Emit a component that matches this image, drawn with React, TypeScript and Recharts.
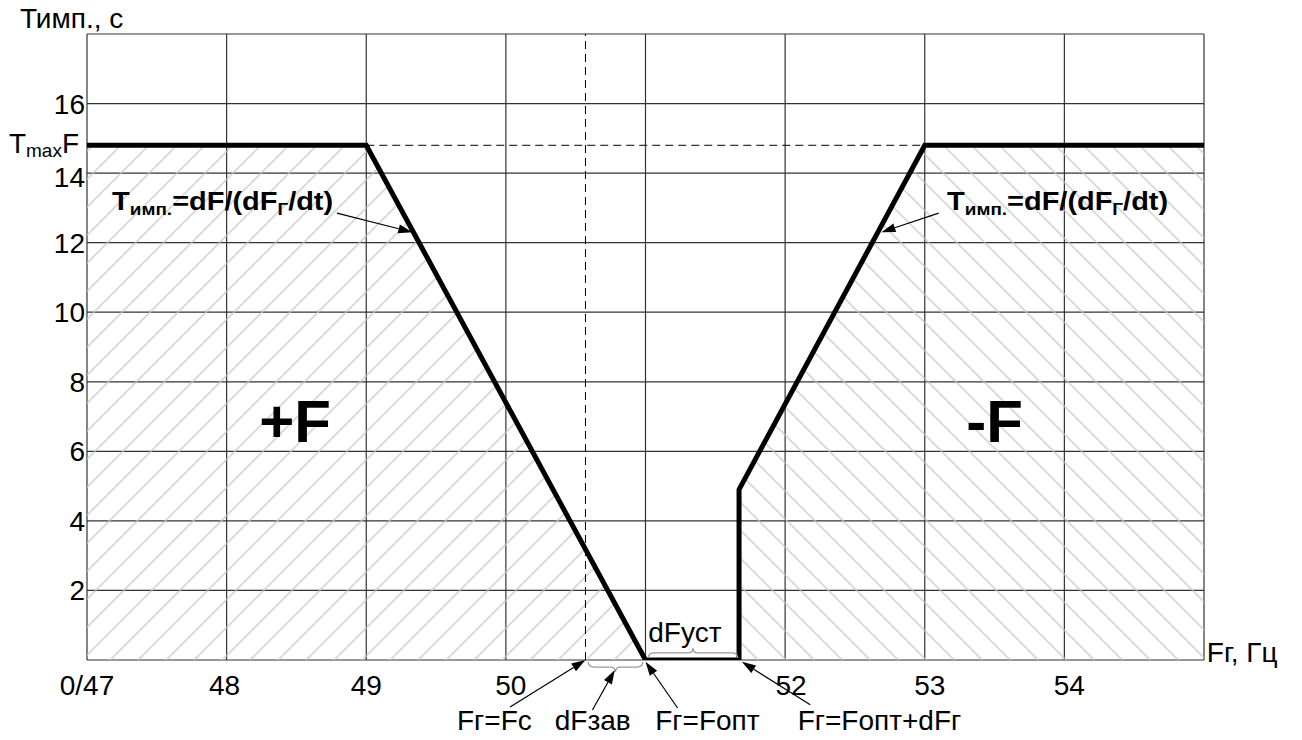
import React from 'react';
import {
  ComposedChart,
  Line,
  Area,
  XAxis,
  YAxis,
  CartesianGrid,
  ReferenceLine,
  ReferenceDot,
} from 'recharts';

// ---------- data ----------
const xTicks = [47, 48, 49, 50, 51, 52, 53, 54, 55];
const xTickLabels = ['0/47', '48', '49', '50', '', '52', '53', '54', ''];
const yTicks = [0, 2, 4, 6, 8, 10, 12, 14, 16, 18];
const yTickLabels = ['', '2', '4', '6', '8', '10', '12', '14', '16', ''];

const freq = [47, 49, 51, 51.67, 51.67, 53, 55];
const timp = [14.8, 14.8, 0, 0, 4.9, 14.8, 14.8];
const plusZone = [14.8, 14.8, 0, null, null, null, null];
const minusZone = [null, null, null, null, 4.9, 14.8, 14.8];

const TMAX = 14.8;
const F_C = 50.57;
const F_DASH_START = 49;
const F_DASH_END = 53;

const data = freq.map((x, i) => ({ x, T: timp[i], plus: plusZone[i], minus: minusZone[i] }));

const FONT = "'Liberation Sans', Arial, Helvetica, sans-serif";
const FS = 28;

// ---------- shapes ----------
const XTick = (props: any) => {
  const { x, y, payload } = props;
  const idx = xTicks.indexOf(payload.value);
  const label = idx >= 0 ? xTickLabels[idx] : '';
  const shift: Record<string, number> = { '48': -2, '50': 5, '52': 6, '53': 5, '54': 5 };
  return (
    <text x={x + (shift[label] || 0)} y={y + 35} textAnchor="middle" fontSize={FS} fontFamily={FONT} fill="#000">
      {label}
    </text>
  );
};

const YTick = (props: any) => {
  const { x, y, payload } = props;
  const idx = yTicks.indexOf(payload.value);
  const label = idx >= 0 ? yTickLabels[idx] : '';
  const extra = payload.value === 14 ? 4 : 0;
  return (
    <text x={x - 2} y={y + 10 + extra} textAnchor="end" fontSize={FS} fontFamily={FONT} fill="#000">
      {label}
    </text>
  );
};

const arrowShape = (p: any) => {
  const { x1, y1, x2, y2 } = p;
  const dx = x2 - x1;
  const dy = y2 - y1;
  const len = Math.hypot(dx, dy) || 1;
  const ux = dx / len;
  const uy = dy / len;
  const L = 14;
  const W = 4.5;
  const bx = x2 - ux * L;
  const by = y2 - uy * L;
  const pts = `${x2},${y2} ${bx - uy * W},${by + ux * W} ${bx + uy * W},${by - ux * W}`;
  return (
    <g>
      <line x1={x1} y1={y1} x2={bx} y2={by} stroke="#000" strokeWidth={1.2} />
      <polygon points={pts} fill="#000" />
    </g>
  );
};

const braceShape = (dir: number) => (p: any) => {
  const { x1, y1, x2 } = p;
  const y = y1;
  const mid = (x1 + x2) / 2;
  const h = 5 * dir;
  const path = `M${x1},${y} Q${x1},${y + h} ${x1 + 6},${y + h} L${mid - 5},${y + h} Q${mid},${y + h} ${mid},${y + 2 * h} Q${mid},${y + h} ${mid + 5},${y + h} L${x2 - 6},${y + h} Q${x2},${y + h} ${x2},${y}`;
  return <path d={path} fill="none" stroke="#9a9a9a" strokeWidth={1.3} />;
};

const textAt = (key: string, x: number, y: number, content: React.ReactNode, extra: any = {}) => (
  <ReferenceDot
    key={key}
    x={x}
    y={y}
    r={0}
    ifOverflow="visible"
    shape={(p: any) => (
      <text x={p.cx} y={p.cy} fontFamily={FONT} fill="#000" {...extra}>
        {content}
      </text>
    )}
  />
);

const arrow = (key: string, from: [number, number], to: [number, number]) => (
  <ReferenceLine
    key={key}
    ifOverflow="visible"
    segment={[
      { x: from[0], y: from[1] },
      { x: to[0], y: to[1] },
    ]}
    shape={arrowShape}
  />
);

const timpFormula = (
  <>
    <tspan fontSize={26}>Т</tspan>
    <tspan fontSize={17} dy={5}>имп.</tspan>
    <tspan fontSize={26} dy={-5}>=dF/(dF</tspan>
    <tspan fontSize={17} dy={5}>Г</tspan>
    <tspan fontSize={26} dy={-5}>/dt)</tspan>
  </>
);

export default function App() {
  return (
    <div style={{ position: 'absolute', left: 0, top: 0, width: 1302, height: 740, background: '#fff' }}>
      <ComposedChart width={1302} height={740} data={data} margin={{ top: 34, right: 98, left: 0, bottom: 0 }}>
        <defs>
          <pattern id="hatchPlus" patternUnits="userSpaceOnUse" width={19.8} height={19.8} patternTransform="rotate(45)">
            <line x1={10} y1={0} x2={10} y2={19.8} stroke="#c6c6c6" strokeWidth={1.3} />
          </pattern>
          <pattern id="hatchMinus" patternUnits="userSpaceOnUse" width={19.8} height={19.8} patternTransform="rotate(-45)">
            <line x1={10} y1={0} x2={10} y2={19.8} stroke="#c6c6c6" strokeWidth={1.3} />
          </pattern>
        </defs>
        <CartesianGrid stroke="#333" strokeWidth={1.2} />
        <XAxis
          dataKey="x"
          type="number"
          domain={[47, 55]}
          ticks={xTicks}
          interval={0}
          height={80}
          tickSize={0}
          tickMargin={0}
          axisLine={false}
          tickLine={false}
          tick={<XTick />}
          allowDataOverflow
        />
        <YAxis
          type="number"
          domain={[0, 18]}
          ticks={yTicks}
          interval={0}
          width={87}
          tickSize={0}
          tickMargin={0}
          axisLine={false}
          tickLine={false}
          tick={<YTick />}
          allowDataOverflow
        />
        <Area dataKey="plus" type="linear" stroke="none" fill="url(#hatchPlus)" fillOpacity={1} isAnimationActive={false} dot={false} activeDot={false} />
        <Area dataKey="minus" type="linear" stroke="none" fill="url(#hatchMinus)" fillOpacity={1} isAnimationActive={false} dot={false} activeDot={false} />
        <ReferenceLine x={F_C} stroke="#000" strokeWidth={1} strokeDasharray="8 5" />
        <ReferenceLine
          segment={[
            { x: F_DASH_START, y: TMAX },
            { x: F_DASH_END, y: TMAX },
          ]}
          stroke="#000"
          strokeWidth={1}
          strokeDasharray="8 5"
        />
        <Line dataKey="T" type="linear" stroke="#000" strokeWidth={5} dot={false} activeDot={false} isAnimationActive={false} />

        {/* braces */}
        <ReferenceLine ifOverflow="visible" segment={[{ x: 51.02, y: 0.06 }, { x: 51.66, y: 0.06 }]} shape={braceShape(-1)} />
        <ReferenceLine ifOverflow="visible" segment={[{ x: 50.59, y: -0.06 }, { x: 50.98, y: -0.06 }]} shape={braceShape(1)} />

        {/* arrows */}
        {arrow('a1', [48.79, 12.85], [49.33, 12.3])}
        {arrow('a2', [53.1, 12.85], [52.69, 12.3])}
        {arrow('a3', [50.03, -1.35], [50.57, 0])}
        {arrow('a4', [50.62, -1.44], [50.78, -0.29])}
        {arrow('a5', [51.23, -1.38], [51.0, -0.05])}
        {arrow('a6', [52.18, -1.29], [51.69, -0.05])}

        {/* texts */}
        {textAt('t-title', 46.52, 18.17, 'Тимп., с', { fontSize: FS })}
        {textAt('t-fr', 55.02, -0.06, 'Fг, Гц', { fontSize: FS })}
        {textAt(
          't-tmax',
          46.943,
          14.58,
          <>
            <tspan fontSize={28}>T</tspan>
            <tspan fontSize={19} dy={4}>max</tspan>
            <tspan fontSize={28} dy={-4}>F</tspan>
          </>,
          { textAnchor: 'end' }
        )}
        {textAt('t-f1', 47.18, 12.94, timpFormula, { fontWeight: 'bold', textLength: 221, lengthAdjust: 'spacingAndGlyphs' })}
        {textAt('t-f2', 53.16, 12.94, timpFormula, { fontWeight: 'bold', textLength: 221, lengthAdjust: 'spacingAndGlyphs' })}
        {textAt('t-plus', 48.49, 6.27, '+F', { fontSize: 60, fontWeight: 'bold', textAnchor: 'middle' })}
        {textAt('t-minus', 53.5, 6.27, '-F', { fontSize: 60, fontWeight: 'bold', textAnchor: 'middle' })}
        {textAt('t-dfust', 51.02, 0.52, 'dFуст', { fontSize: FS })}
        {textAt('t-fc', 49.65, -2.01, 'Fг=Fc', { fontSize: FS })}
        {textAt('t-dfzav', 50.35, -2.01, 'dFзав', { fontSize: FS })}
        {textAt('t-fopt', 51.07, -2.01, 'Fг=Fопт', { fontSize: FS })}
        {textAt('t-fopt2', 52.09, -2.01, 'Fг=Fопт+dFг', { fontSize: FS })}
      </ComposedChart>
    </div>
  );
}
